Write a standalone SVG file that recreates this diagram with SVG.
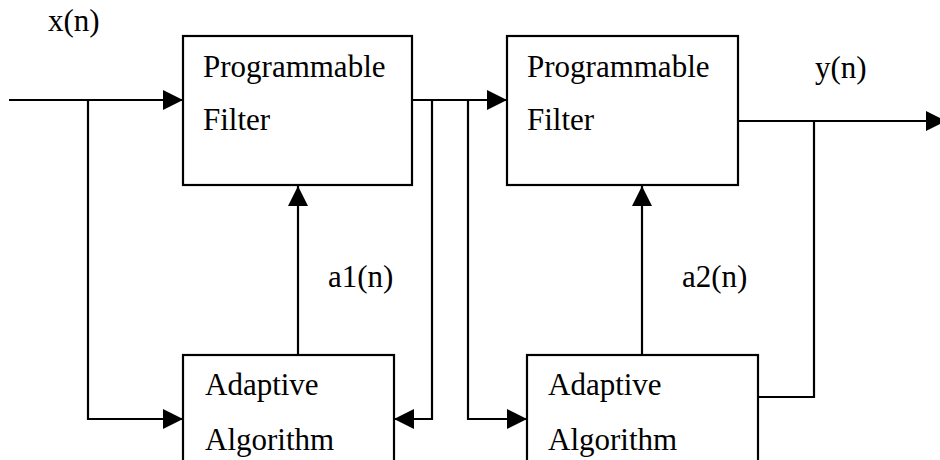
<svg xmlns="http://www.w3.org/2000/svg" width="940" height="460" viewBox="0 0 940 460">
  <style>
    .box { fill: #ffffff; stroke: #000000; stroke-width: 2.2; }
    .wire { fill: none; stroke: #000000; stroke-width: 2.2; }
    .lbl { font-family: "Liberation Serif", "Times New Roman", serif; font-size: 31px; fill: #000000; }
  </style>
  <defs>
    <marker id="head" markerUnits="userSpaceOnUse" markerWidth="22" markerHeight="22" refX="20" refY="10" orient="auto">
      <path d="M0,0 L20,10 L0,20 z" fill="#000000"/>
    </marker>
  </defs>

  <rect width="940" height="460" fill="#ffffff"/>

  <!-- connectors -->
  <g id="connectors">
    <path class="wire" d="M9,100 H183" marker-end="url(#head)"/>
    <path class="wire" d="M88,100 V419 H183" marker-end="url(#head)"/>
    <path class="wire" d="M412,100 H507" marker-end="url(#head)"/>
    <path class="wire" d="M432,100 V419 H394" marker-end="url(#head)"/>
    <path class="wire" d="M468,100 V419 H527" marker-end="url(#head)"/>
    <path class="wire" d="M298,355 V186" marker-end="url(#head)"/>
    <path class="wire" d="M642,355 V186" marker-end="url(#head)"/>
    <path class="wire" d="M738,121 H946" marker-end="url(#head)"/>
    <path class="wire" d="M814,121 V397 H758"/>
  </g>

  <!-- signal labels -->
  <g id="labels">
    <text class="lbl" x="48" y="31">x(n)</text>
    <text class="lbl" x="815" y="78">y(n)</text>
    <text class="lbl" x="328" y="287">a1(n)</text>
    <text class="lbl" x="682" y="287">a2(n)</text>
  </g>

  <g id="filter1">
    <rect class="box" x="183" y="36" width="229" height="149"/>
    <text class="lbl" x="203" y="77">Programmable</text>
    <text class="lbl" x="203" y="130">Filter</text>
  </g>

  <g id="filter2">
    <rect class="box" x="507" y="36" width="231" height="149"/>
    <text class="lbl" x="527" y="77">Programmable</text>
    <text class="lbl" x="527" y="130">Filter</text>
  </g>

  <g id="adaptive1">
    <rect class="box" x="183" y="355" width="211" height="130"/>
    <text class="lbl" x="205" y="395">Adaptive</text>
    <text class="lbl" x="205" y="450">Algorithm</text>
  </g>

  <g id="adaptive2">
    <rect class="box" x="527" y="355" width="231" height="130"/>
    <text class="lbl" x="548" y="395">Adaptive</text>
    <text class="lbl" x="548" y="450">Algorithm</text>
  </g>
</svg>
